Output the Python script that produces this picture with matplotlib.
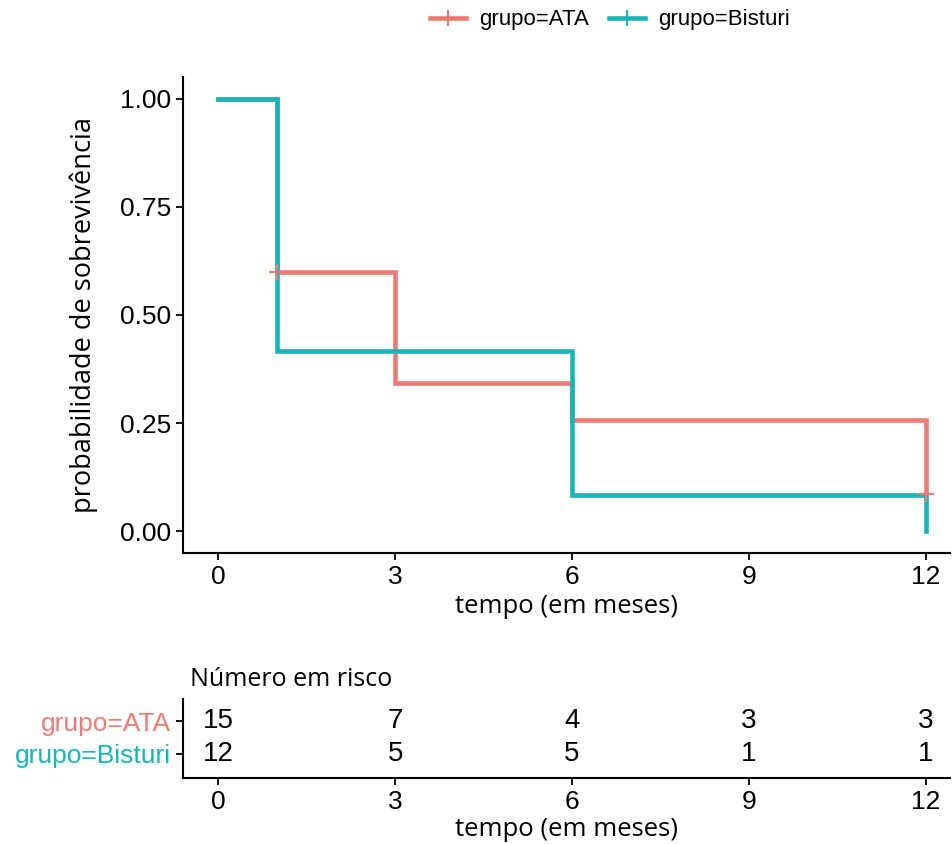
import matplotlib
matplotlib.use("Agg")
import matplotlib.pyplot as plt
from matplotlib.lines import Line2D

# ---- data ----
groups = ["grupo=ATA", "grupo=Bisturi"]
time_ata = [0, 1, 3, 6, 12]
surv_ata = [1.0, 0.6, 0.343, 0.257, 0.086]
cens_time_ata = [1, 12]
cens_surv_ata = [0.6, 0.086]
time_bis = [0, 1, 6, 12]
surv_bis = [1.0, 0.417, 0.083, 0.0]
risk_times = [0, 3, 6, 9, 12]
risk_ata = [15, 7, 4, 3, 3]
risk_bis = [12, 5, 5, 1, 1]
xticks = [0, 3, 6, 9, 12]
yticks = [0.00, 0.25, 0.50, 0.75, 1.00]
ytick_labels = ["0.00", "0.25", "0.50", "0.75", "1.00"]

c_ata = "#EE7B73"
c_bis = "#16B5BA"
tick_font = "Liberation Sans"
lab_font = "Open Sans"

W, H = 953, 844
fig = plt.figure(figsize=(W / 100, H / 100), dpi=100)

# ---- main axes ----
ax = fig.add_axes([183 / W, 1 - 553 / H, (950 - 183) / W, (553 - 77) / H])
ax.step(time_ata, surv_ata, where="post", color=c_ata, lw=3.3, solid_joinstyle="miter")
ax.step(time_bis, surv_bis, where="post", color=c_bis, lw=3.3, solid_joinstyle="miter")
ax.plot(cens_time_ata, cens_surv_ata, ls="none", marker="+", ms=11, mew=1.5, color=c_ata)
ax.set_xlim(-0.6, 12.41)
ax.set_ylim(-0.05, 1.05)
ax.set_xticks(xticks)
ax.set_yticks(yticks)
ax.set_yticklabels(ytick_labels)
for s in ["top", "right"]:
    ax.spines[s].set_visible(False)
for s in ["left", "bottom"]:
    ax.spines[s].set_linewidth(1.5)
ax.tick_params(axis="both", labelsize=19, width=1.3, length=5, colors="black")
for lbl in ax.get_xticklabels() + ax.get_yticklabels():
    lbl.set_fontfamily(tick_font)
ax.set_xlabel("tempo (em meses)", fontsize=18.5, family=lab_font, labelpad=4)
ax.set_ylabel("probabilidade de sobrevivência", fontsize=19.5, family=lab_font, labelpad=16)

# legend
handles = [Line2D([0], [0], color=c_ata, lw=3.3, marker="+", ms=12, mew=1.5),
           Line2D([0], [0], color=c_bis, lw=3.3, marker="+", ms=12, mew=1.5)]
fig.legend(handles, groups, loc="center", bbox_to_anchor=(610 / W, 1 - 20 / H), ncol=2,
           frameon=False, prop={"family": tick_font, "size": 16}, handlelength=1.6,
           columnspacing=0.9, handletextpad=0.6)

# ---- risk table ----
rax = fig.add_axes([183 / W, 1 - 778 / H, (950 - 183) / W, (778 - 699) / H])
rax.set_xlim(-0.6, 12.41)
rax.set_ylim(0.27, 2.67)
for t, n in zip(risk_times, risk_ata):
    rax.text(t, 2, str(n), ha="center", va="center", fontsize=20, family=tick_font)
for t, n in zip(risk_times, risk_bis):
    rax.text(t, 1, str(n), ha="center", va="center", fontsize=20, family=tick_font)
rax.set_yticks([2, 1])
rax.set_yticklabels(groups)
for lbl, c in zip(rax.get_yticklabels(), [c_ata, c_bis]):
    lbl.set_color(c)
    lbl.set_fontfamily(tick_font)
rax.set_xticks(xticks)
for lbl in rax.get_xticklabels():
    lbl.set_fontfamily(tick_font)
for s in ["top", "right"]:
    rax.spines[s].set_visible(False)
for s in ["left", "bottom"]:
    rax.spines[s].set_linewidth(1.5)
rax.tick_params(axis="both", labelsize=19, width=1.3, length=5)
rax.set_xlabel("tempo (em meses)", fontsize=18.5, family=lab_font, labelpad=2)
fig.text(190 / W, 1 - 680 / H, "Número em risco", fontsize=18, family=lab_font,
         ha="left", va="center")

fig.savefig("out.png", dpi=100, facecolor="white")
